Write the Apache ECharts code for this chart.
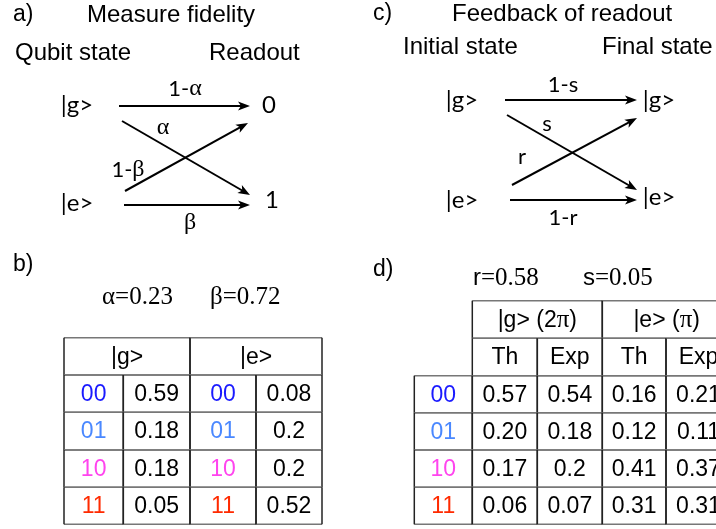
<!DOCTYPE html>
<html>
<head>
<meta charset="utf-8">
<script src="https://cdn.jsdelivr.net/npm/echarts@6/dist/echarts.min.js"></script>
<style>
  html, body { margin: 0; padding: 0; background: #fff; }
  #main { width: 716px; height: 529px; }
</style>
</head>
<body>
<div id="main"></div>
<script>
// ---- data ----
const qubitStates = ['|g>', '|e>'];
const readouts = ['0', '1'];
const fidelityLabels = ['1-{g|α}', '{g|α}', '1-{g|β}', '{g|β}'];   // g->0, g->1, e->0, e->1
const finalStates = ['|g>', '|e>'];
const feedbackLabels = ['1-s', 's', 'r', '1-r'];                // g->g, g->e, e->g, e->e
const outcomes = ['00', '01', '10', '11'];
const alpha = '0.23';
const beta = '0.72';
const fidG = ['0.59', '0.18', '0.18', '0.05'];
const fidE = ['0.08', '0.2', '0.2', '0.52'];
const rVal = '0.58';
const sVal = '0.05';
const gTh = ['0.57', '0.20', '0.17', '0.06'];
const gExp = ['0.54', '0.18', '0.2', '0.07'];
const eTh = ['0.16', '0.12', '0.41', '0.31'];
const eExp = ['0.21', '0.11', '0.37', '0.31'];

// ---- layout (positions in the hidden 716 x 529 grid) ----
const SANS = 'Liberation Sans, Arial, sans-serif';
const CAL = 'Lato, Open Sans, sans-serif';
const SERIF = 'Liberation Serif, Times New Roman, serif';
const outcomeColors = ['#1a1aff', '#4a88ff', '#ff44ee', '#ff2a00'];

const diagA = {
    from: [[119, 106], [122, 121], [125, 191], [124, 205]],
    to: [[250, 106], [250, 195], [248, 123], [250, 205]],
    labels: [[185, 89], [163, 128], [128, 170], [190, 223]],
    left: [[77, 105], [77, 203]],
    right: [[269, 105], [272, 200]]
};
const diagC = {
    from: [[505, 100], [507, 115], [512, 185], [510, 200]],
    to: [[637, 100], [637, 190], [637, 118], [637, 200]],
    labels: [[563, 85], [547, 124], [522, 157], [563, 218]],
    left: [[462, 100], [462, 200]],
    right: [[659, 100], [659, 197]]
};
const tableB = {
    cols: [64, 123.3, 190, 256, 322],
    rows: [337.7, 375, 412.3, 450, 487.3, 524.3]
};
const tableD = {
    cols: [414.3, 472.3, 537.3, 602.3, 666, 731],
    rows: [300.7, 338.3, 375.7, 412.7, 450, 487.3, 524.3]
};

// ---- build marks ----
const arrows = [];
[diagA, diagC].forEach(d => {
    d.from.forEach((p, i) => arrows.push([p[0], p[1], d.to[i][0], d.to[i][1]]));
});

const texts = [];
function addText(x, y, text, font, size, color, align, rich) {
    texts.push({ x, y, text, font, size, color: color || '#000', align: align || 'left', rich });
}
const greek = { g: { fontFamily: SERIF, fontSize: 24 } };

// panel headings
addText(13, 15, 'a)', SANS, 23);
addText(87, 15, 'Measure fidelity', SANS, 24);
addText(15, 53, 'Qubit state', SANS, 24);
addText(209, 53, 'Readout', SANS, 24);
addText(373, 14, 'c)', SANS, 23);
addText(452, 14, 'Feedback of readout', SANS, 24);
addText(403, 47, 'Initial state', SANS, 24);
addText(602, 47, 'Final state', SANS, 24);
addText(13, 265, 'b)', SANS, 23);
addText(373, 270, 'd)', SANS, 23);

// diagram a
qubitStates.forEach((s, i) => addText(diagA.left[i][0], diagA.left[i][1], s, CAL, 24, '#000', 'center'));
readouts.forEach((s, i) => addText(diagA.right[i][0], diagA.right[i][1], s, CAL, 24, '#000', 'center'));
fidelityLabels.forEach((s, i) => addText(diagA.labels[i][0], diagA.labels[i][1], s, CAL, 22, '#000', 'center', greek));
// diagram c
qubitStates.forEach((s, i) => addText(diagC.left[i][0], diagC.left[i][1], s, CAL, 24, '#000', 'center'));
finalStates.forEach((s, i) => addText(diagC.right[i][0], diagC.right[i][1], s, CAL, 24, '#000', 'center'));
feedbackLabels.forEach((s, i) => addText(diagC.labels[i][0], diagC.labels[i][1], s, CAL, 22, '#000', 'center'));

// parameters
const serifRich = { t: { fontFamily: SERIF, fontSize: 25 } };
addText(102, 297, '{t|α=' + alpha + '}', SERIF, 25, '#000', 'left', serifRich);
addText(210, 297, '{t|β=' + beta + '}', SERIF, 25, '#000', 'left', serifRich);
addText(473, 278, 'r{t|=' + rVal + '}', SANS, 24, '#000', 'left', serifRich);
addText(583, 278, 's{t|=' + sVal + '}', SANS, 24, '#000', 'left', serifRich);

// table cells: [table, row, col, span, text, color, rich]
const cells = [];
cells.push([tableB, 0, 0, 2, '|g>']);
cells.push([tableB, 0, 2, 2, '|e>']);
outcomes.forEach((o, i) => {
    cells.push([tableB, i + 1, 0, 1, o, outcomeColors[i]]);
    cells.push([tableB, i + 1, 1, 1, fidG[i]]);
    cells.push([tableB, i + 1, 2, 1, o, outcomeColors[i]]);
    cells.push([tableB, i + 1, 3, 1, fidE[i]]);
});
const piRich = { p: { fontFamily: SERIF, fontSize: 25 } };
cells.push([tableD, 0, 1, 2, '|g> (2{p|π})', null, piRich]);
cells.push([tableD, 0, 3, 2, '|e> ({p|π})', null, piRich]);
['Th', 'Exp', 'Th', 'Exp'].forEach((h, j) => cells.push([tableD, 1, j + 1, 1, h]));
outcomes.forEach((o, i) => {
    cells.push([tableD, i + 2, 0, 1, o, outcomeColors[i]]);
    [gTh, gExp, eTh, eExp].forEach((col, j) => cells.push([tableD, i + 2, j + 1, 1, col[i]]));
});

// ---- chart ----
const chart = echarts.init(document.getElementById('main'));

function arrowItem(params, api) {
    const p1 = api.coord([api.value(0), api.value(1)]);
    const p2 = api.coord([api.value(2), api.value(3)]);
    const ang = Math.atan2(p2[1] - p1[1], p2[0] - p1[0]);
    const len = 12, half = 4.5, notch = 3;
    const ux = Math.cos(ang), uy = Math.sin(ang);
    const px = -uy, py = ux;
    const base = [p2[0] - ux * len, p2[1] - uy * len];
    const head = [
        p2,
        [base[0] + px * half, base[1] + py * half],
        [p2[0] - ux * (len - notch), p2[1] - uy * (len - notch)],
        [base[0] - px * half, base[1] - py * half]
    ];
    return {
        type: 'group',
        children: [
            {
                type: 'line',
                shape: { x1: p1[0], y1: p1[1], x2: p2[0] - ux * 6, y2: p2[1] - uy * 6 },
                style: { stroke: '#000', lineWidth: 2 }
            },
            { type: 'polygon', shape: { points: head }, style: { fill: '#000' } }
        ]
    };
}

function textItem(params, api) {
    const t = texts[params.dataIndex];
    const p = api.coord([t.x, t.y]);
    return {
        type: 'text',
        x: p[0],
        y: p[1],
        style: {
            text: t.text,
            fill: t.color,
            fontFamily: t.font,
            fontSize: t.size,
            align: t.align,
            verticalAlign: 'middle',
            rich: t.rich
        }
    };
}

function cellItem(params, api) {
    const c = cells[params.dataIndex];
    const tb = c[0];
    const p0 = api.coord([tb.cols[c[2]], tb.rows[c[1]]]);
    const p1 = api.coord([tb.cols[c[2] + c[3]], tb.rows[c[1] + 1]]);
    const hStyle = { stroke: '#777', lineWidth: 1.5 };
    const vStyle = { stroke: '#222', lineWidth: 1.5 };
    return {
        type: 'group',
        children: [
            { type: 'line', shape: { x1: p0[0], y1: p0[1], x2: p1[0], y2: p0[1] }, style: hStyle },
            { type: 'line', shape: { x1: p0[0], y1: p1[1], x2: p1[0], y2: p1[1] }, style: hStyle },
            { type: 'line', shape: { x1: p0[0], y1: p0[1], x2: p0[0], y2: p1[1] }, style: vStyle },
            { type: 'line', shape: { x1: p1[0], y1: p0[1], x2: p1[0], y2: p1[1] }, style: vStyle },
            {
                type: 'text',
                x: (p0[0] + p1[0]) / 2,
                y: (p0[1] + p1[1]) / 2 + 1,
                style: {
                    text: c[4],
                    fill: c[5] || '#000',
                    fontFamily: SANS,
                    fontSize: 23,
                    align: 'center',
                    verticalAlign: 'middle',
                    rich: c[6]
                }
            }
        ]
    };
}

const option = {
    animation: false,
    backgroundColor: '#fff',
    grid: { left: 0, right: 0, top: 0, bottom: 0 },
    xAxis: { type: 'value', min: 0, max: 716, show: false },
    yAxis: { type: 'value', min: 0, max: 529, inverse: true, show: false },
    series: [
        {
            name: 'tables',
            type: 'custom',
            renderItem: cellItem,
            data: cells.map((c, i) => [i]),
            encode: { x: -1, y: -1 }
        },
        {
            name: 'arrows',
            type: 'custom',
            renderItem: arrowItem,
            data: arrows
        },
        {
            name: 'texts',
            type: 'custom',
            renderItem: textItem,
            data: texts.map(t => [t.x, t.y])
        }
    ]
};

chart.setOption(option);
</script>
</body>
</html>
